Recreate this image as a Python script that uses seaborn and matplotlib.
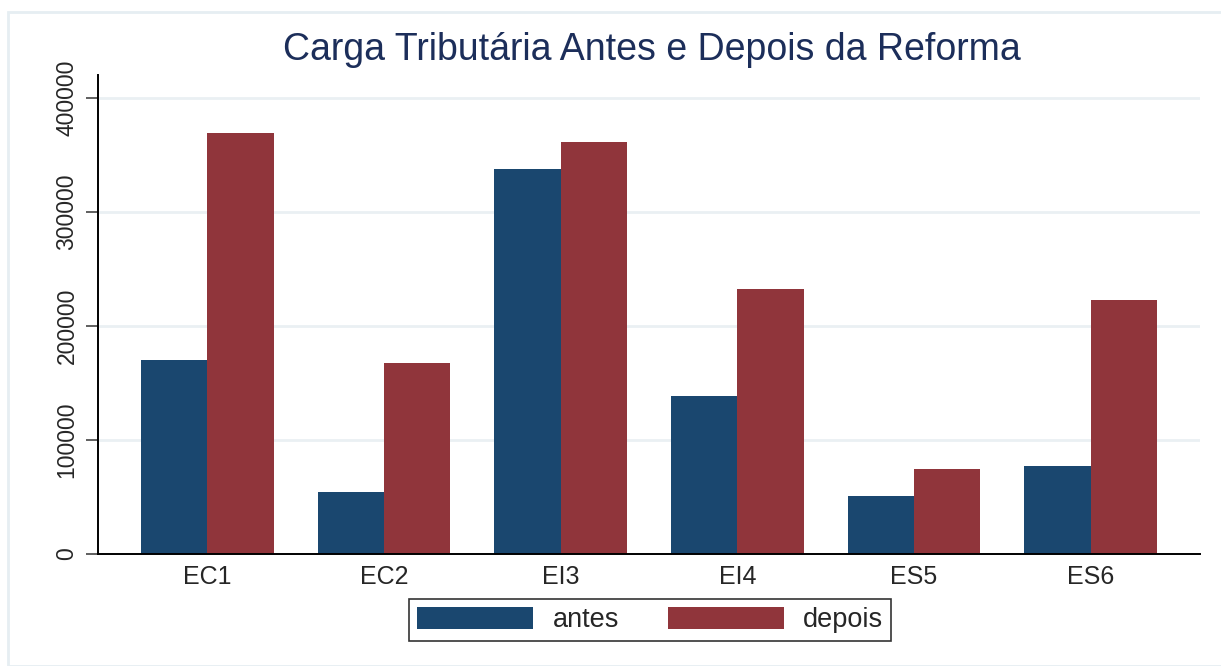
import pandas as pd
import matplotlib
matplotlib.use("Agg")
import matplotlib.pyplot as plt
from matplotlib.patches import Rectangle
import seaborn as sns

categorias = ["EC1", "EC2", "EI3", "EI4", "ES5", "ES6"]
antes = [170000, 54500, 337500, 138500, 51000, 77500]
depois = [369000, 167500, 361000, 232500, 74500, 223000]
series = ["antes", "depois"]
cores = ["#1a476f", "#90353b"]

df = pd.DataFrame({
    "cat": categorias * 2,
    "valor": antes + depois,
    "grupo": ["antes"] * len(categorias) + ["depois"] * len(categorias),
})

sns.set_theme(style="white")
plt.rcParams["font.family"] = ["Liberation Sans", "DejaVu Sans"]

W, H = 1221, 666
fig = plt.figure(figsize=(W / 100, H / 100), dpi=100)
fig.patches.append(Rectangle((8 / W, 0), 1.2, 1 - 12 / H, transform=fig.transFigure,
                             fill=False, edgecolor="#e6eef2", linewidth=2))

ax = fig.add_axes([98 / W, 1 - 554 / H, (1200 - 98) / W, (554 - 75) / H])
sns.barplot(data=df, x="cat", y="valor", hue="grupo", hue_order=series,
            palette=cores, saturation=1, width=0.75, ax=ax, linewidth=0)

ax.set_xlim(-0.62, 5.62)
ax.set_ylim(0, 420000)
ax.set_yticks([0, 100000, 200000, 300000, 400000])
ax.set_yticklabels(["0", "100000", "200000", "300000", "400000"], rotation=90, va="center")
ax.grid(axis="y", color="#eaf0f3", linewidth=2)
ax.set_axisbelow(True)
ax.set_xlabel("")
ax.set_ylabel("")
for s in ["top", "right"]:
    ax.spines[s].set_visible(False)
for s in ["left", "bottom"]:
    ax.spines[s].set_color("black")
    ax.spines[s].set_linewidth(1.4)
ax.tick_params(axis="y", length=9, width=1.2, color="#444444", pad=5, labelsize=16.5, left=True)
ax.tick_params(axis="x", length=0, pad=8, labelsize=18)

fig.text(652 / W, 1 - 50 / H, "Carga Tributária Antes e Depois da Reforma",
         ha="center", va="center", fontsize=27, color="#1c2e5a")

ax.get_legend().remove()
handles = [Rectangle((0, 0), 1, 1, facecolor=c, edgecolor="none") for c in cores]
leg = fig.legend(handles, series, loc="center", bbox_to_anchor=(650 / W, 1 - 620 / H),
                 ncol=2, fontsize=19.5, handlelength=4.3, handleheight=0.85,
                 handletextpad=0.7, columnspacing=1.8, fancybox=False,
                 frameon=True, borderpad=0.3)
leg.get_frame().set_edgecolor("black")
leg.get_frame().set_linewidth(1.2)

fig.savefig("out.png", dpi=100)
